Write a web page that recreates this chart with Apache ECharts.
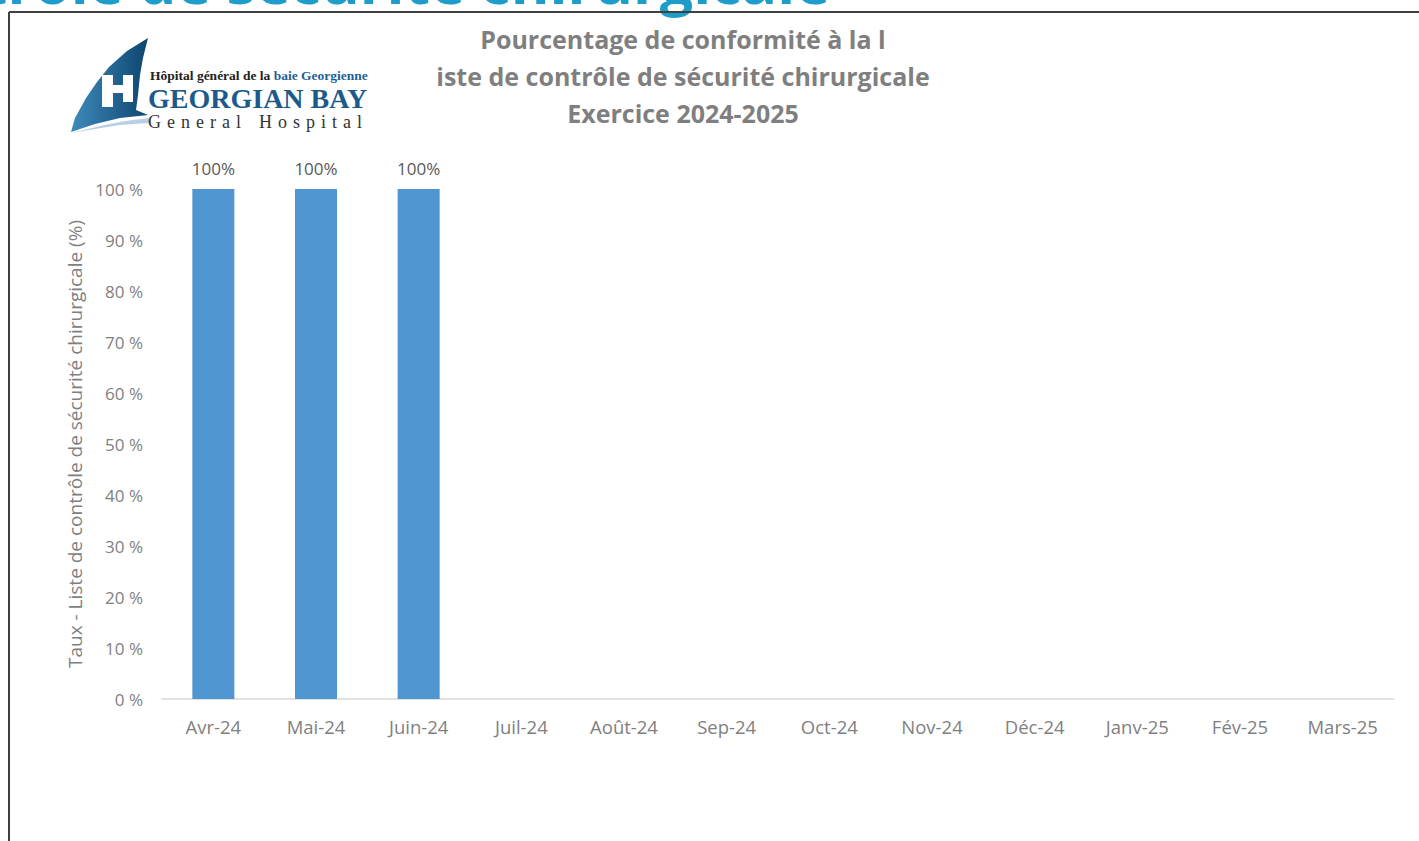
<!DOCTYPE html>
<html>
<head>
<meta charset="utf-8">
<script src="https://cdn.jsdelivr.net/npm/echarts@6/dist/echarts.min.js"></script>
<style>
  html, body { margin: 0; padding: 0; background: #fff; }
  #chart { width: 1419px; height: 841px; }
</style>
</head>
<body>
<div id="chart"></div>
<script>
var months = ['Avr-24', 'Mai-24', 'Juin-24', 'Juil-24', 'Août-24', 'Sep-24', 'Oct-24', 'Nov-24', 'Déc-24', 'Janv-25', 'Fév-25', 'Mars-25'];
var taux = [100, 100, 100, null, null, null, null, null, null, null, null, null];
var titleLines = ['Pourcentage de conformité à la l', 'iste de contrôle de sécurité chirurgicale', 'Exercice 2024-2025'];
var yName = 'Taux - Liste de contrôle de sécurité chirurgicale (%)';

var gray = '#7f7f7f';
var font = '"Open Sans", "Liberation Sans", sans-serif';
var serif = '"Liberation Serif", "DejaVu Serif", serif';

var chart = echarts.init(document.getElementById('chart'), null, { renderer: 'svg' });

var option = {
  animation: false,
  backgroundColor: '#fff',
  grid: { left: 162, right: 25, top: 189, bottom: 142 },
  title: {
    text: titleLines.join('\n'),
    left: 678,
    top: 15,
    textAlign: 'center',
    textStyle: { color: gray, fontSize: 25, fontWeight: 'bold', lineHeight: 37, fontFamily: font }
  },
  xAxis: {
    type: 'category',
    data: months,
    axisLine: { lineStyle: { color: '#d9d9d9', width: 1.5 } },
    axisTick: { show: false },
    axisLabel: { color: gray, fontSize: 18.5, margin: 18, fontFamily: font, interval: 0 }
  },
  yAxis: {
    type: 'value',
    min: 0,
    max: 100,
    interval: 10,
    name: yName,
    nameLocation: 'middle',
    nameGap: 77,
    nameTextStyle: { color: gray, fontSize: 19, fontFamily: font },
    splitLine: { show: false },
    axisLine: { show: false },
    axisTick: { show: false },
    axisLabel: { color: gray, fontSize: 17, margin: 19, fontFamily: font, formatter: '{value} %' }
  },
  series: [{
    type: 'bar',
    data: taux,
    barWidth: 42,
    itemStyle: { color: '#4f96d1' },
    label: {
      show: true,
      position: 'top',
      distance: 12,
      color: '#595959',
      fontSize: 17,
      fontFamily: font,
      formatter: '{c}%'
    }
  }],
  graphic: [
    // page heading, cut off above the chart
    {
      type: 'text', x: 830, y: -49,
      style: {
        text: 'Liste de contrôle de sécurité chirurgicale',
        fill: '#1e9dcb', font: 'bold 59px "Open Sans", sans-serif',
        textAlign: 'right', textVerticalAlign: 'top'
      }
    },
    // frame of the chart
    { type: 'line', shape: { x1: 9, y1: 12, x2: 1419, y2: 12 }, style: { stroke: '#404040', lineWidth: 2 } },
    { type: 'line', shape: { x1: 9, y1: 12, x2: 9, y2: 841 }, style: { stroke: '#404040', lineWidth: 2 } },
    // logo
    {
      type: 'polygon',
      shape: { points: [[71, 132], [75, 118], [86, 98], [97, 82], [109, 67], [127, 51], [148, 38], [143, 58], [140, 75], [138, 95], [136, 110], [148, 115], [120, 118], [95, 124]] },
      style: {
        fill: new echarts.graphic.LinearGradient(0, 0, 1, 0, [
          { offset: 0, color: '#3f8abb' },
          { offset: 1, color: '#0e4670' }
        ])
      }
    },
    { type: 'rect', shape: { x: 102, y: 75, width: 11, height: 32 }, style: { fill: '#fff' } },
    { type: 'rect', shape: { x: 123, y: 75, width: 10, height: 27 }, style: { fill: '#fff' } },
    { type: 'rect', shape: { x: 102, y: 85, width: 31, height: 8 }, style: { fill: '#fff' } },
    {
      type: 'polygon',
      shape: { points: [[72, 133], [100, 126], [125, 121], [149, 118], [149, 123], [120, 125], [95, 129]] },
      style: { fill: '#b7d0e4' }
    },
    {
      type: 'text', x: 150, y: 68,
      style: {
        text: '{a|Hôpital général de la }{b|baie Georgienne}',
        rich: {
          a: { fill: '#222', font: 'bold 13.5px ' + serif },
          b: { fill: '#1f5f96', font: 'bold 13.5px ' + serif }
        }
      }
    },
    {
      type: 'text', x: 148, y: 84,
      style: { text: 'GEORGIAN BAY', fill: '#1d5a8c', font: 'bold 28px ' + serif }
    },
    {
      type: 'text', x: 148, y: 113,
      style: { text: 'G\u2004e\u2004n\u2004e\u2004r\u2004a\u2004l\u2004\u2004\u2004H\u2004o\u2004s\u2004p\u2004i\u2004t\u2004a\u2004l', fill: '#333', font: '18px ' + serif }
    }
  ]
};

chart.setOption(option);
</script>
</body>
</html>
